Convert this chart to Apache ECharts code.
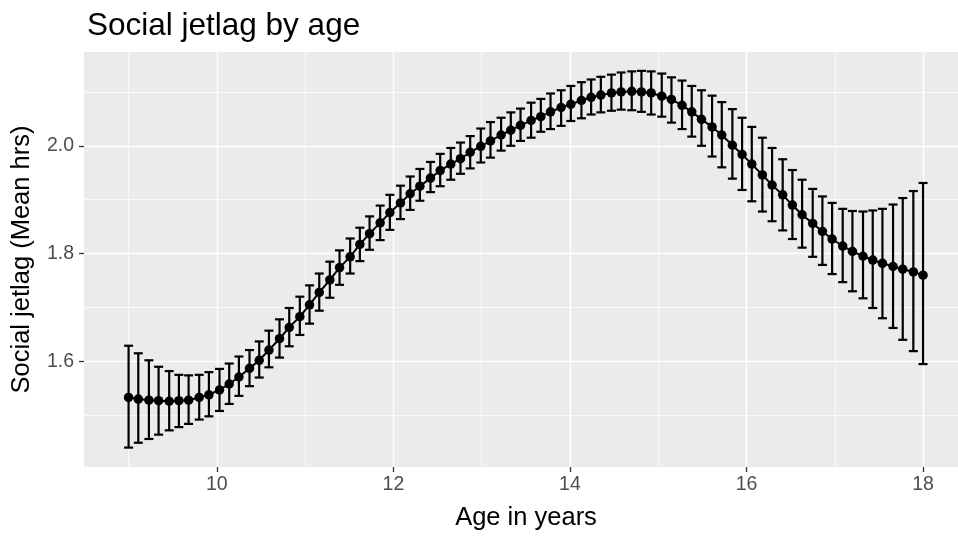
<!DOCTYPE html>
<html>
<head>
<meta charset="utf-8">
<title>Social jetlag by age</title>
<script src="https://cdn.jsdelivr.net/npm/echarts@6.0.0/dist/echarts.min.js"></script>
<style>
  html, body { margin: 0; padding: 0; background: #fff; }
  #jetlag_chart { width: 958px; height: 536px; }
</style>
</head>
<body>
<div id="jetlag_chart"></div>
<script>
// age in years (80 evenly spaced points, 9 -> 18)
var ages = [
  9.00, 9.11, 9.23, 9.34, 9.46, 9.57, 9.68, 9.80, 9.91, 10.03,
  10.14, 10.25, 10.37, 10.48, 10.59, 10.71, 10.82, 10.94, 11.05, 11.16,
  11.28, 11.39, 11.51, 11.62, 11.73, 11.85, 11.96, 12.08, 12.19, 12.30,
  12.42, 12.53, 12.65, 12.76, 12.87, 12.99, 13.10, 13.22, 13.33, 13.44,
  13.56, 13.67, 13.78, 13.90, 14.01, 14.13, 14.24, 14.35, 14.47, 14.58,
  14.70, 14.81, 14.92, 15.04, 15.15, 15.27, 15.38, 15.49, 15.61, 15.72,
  15.84, 15.95, 16.06, 16.18, 16.29, 16.41, 16.52, 16.63, 16.75, 16.86,
  16.97, 17.09, 17.20, 17.32, 17.43, 17.54, 17.66, 17.77, 17.89, 18.00
];
// mean social jetlag (hrs)
var meanJetlag = [
  1.533, 1.530, 1.528, 1.527, 1.526, 1.527, 1.528, 1.533, 1.538, 1.547,
  1.558, 1.571, 1.587, 1.602, 1.621, 1.642, 1.663, 1.683, 1.705, 1.728,
  1.751, 1.774, 1.794, 1.817, 1.837, 1.857, 1.876, 1.894, 1.911, 1.925,
  1.940, 1.954, 1.966, 1.976, 1.988, 1.999, 2.009, 2.020, 2.029, 2.038,
  2.047, 2.054, 2.063, 2.071, 2.077, 2.084, 2.090, 2.094, 2.098, 2.100,
  2.101, 2.100, 2.098, 2.092, 2.086, 2.075, 2.063, 2.049, 2.035, 2.020,
  2.001, 1.984, 1.966, 1.946, 1.927, 1.909, 1.890, 1.872, 1.856, 1.841,
  1.827, 1.814, 1.804, 1.795, 1.788, 1.782, 1.776, 1.771, 1.766, 1.760
];
// error bar ends
var upperCI = [
  1.629, 1.615, 1.602, 1.590, 1.582, 1.575, 1.574, 1.575, 1.580, 1.586,
  1.596, 1.609, 1.621, 1.637, 1.657, 1.678, 1.699, 1.720, 1.741, 1.763,
  1.785, 1.806, 1.828, 1.848, 1.869, 1.889, 1.909, 1.926, 1.943, 1.957,
  1.970, 1.985, 1.996, 2.006, 2.018, 2.032, 2.044, 2.052, 2.062, 2.069,
  2.080, 2.087, 2.097, 2.103, 2.111, 2.118, 2.123, 2.128, 2.132, 2.136,
  2.138, 2.139, 2.138, 2.134, 2.127, 2.121, 2.111, 2.103, 2.093, 2.081,
  2.068, 2.052, 2.035, 2.015, 1.996, 1.975, 1.955, 1.937, 1.920, 1.906,
  1.894, 1.883, 1.879, 1.878, 1.880, 1.883, 1.891, 1.903, 1.916, 1.931
];
var lowerCI = [
  1.440, 1.449, 1.456, 1.464, 1.472, 1.478, 1.484, 1.492, 1.498, 1.508,
  1.521, 1.536, 1.554, 1.570, 1.589, 1.607, 1.628, 1.649, 1.670, 1.694,
  1.718, 1.742, 1.763, 1.786, 1.807, 1.825, 1.844, 1.864, 1.881, 1.898,
  1.914, 1.925, 1.937, 1.948, 1.958, 1.969, 1.978, 1.991, 2.000, 2.009,
  2.015, 2.026, 2.031, 2.037, 2.046, 2.051, 2.058, 2.062, 2.065, 2.067,
  2.066, 2.063, 2.058, 2.054, 2.043, 2.031, 2.017, 2.000, 1.980, 1.960,
  1.939, 1.918, 1.897, 1.878, 1.860, 1.843, 1.827, 1.811, 1.794, 1.779,
  1.762, 1.747, 1.730, 1.717, 1.699, 1.680, 1.662, 1.640, 1.619, 1.595
];
var xTicks = [10, 12, 14, 16, 18];
var xMinor = [9, 11, 13, 15, 17];
var yTicks = [1.6, 1.8, 2.0];
var yMinor = [1.5, 1.7, 1.9, 2.1];

var myChart = echarts.init(document.getElementById("jetlag_chart"));

var points = [];
var bars = [];
for (var i = 0; i < ages.length; i++) {
  points.push([ages[i], meanJetlag[i]]);
  bars.push([ages[i], lowerCI[i], upperCI[i]]);
}

// ggplot style white grid lines
var gridLines = [];
xTicks.forEach(function (v) { gridLines.push({ xAxis: v, lineStyle: { width: 1.4 } }); });
xMinor.forEach(function (v) { gridLines.push({ xAxis: v, lineStyle: { width: 0.7 } }); });
yTicks.forEach(function (v) { gridLines.push({ yAxis: v, lineStyle: { width: 1.4 } }); });
yMinor.forEach(function (v) { gridLines.push({ yAxis: v, lineStyle: { width: 0.7 } }); });

var font = "Liberation Sans, Arial, sans-serif";

var option = {
  backgroundColor: "#fff",
  animation: false,
  title: {
    text: "Social jetlag by age",
    left: 82,
    top: 5,
    textStyle: { color: "#000", fontSize: 31.5, fontWeight: "normal", fontFamily: font }
  },
  grid: {
    left: 84,
    right: 0,
    top: 52,
    bottom: 66,
    show: true,
    backgroundColor: "#EBEBEB",
    borderWidth: 0
  },
  xAxis: {
    type: "value",
    min: 8.495,
    max: 18.396,
    name: "Age in years",
    nameLocation: "middle",
    nameGap: 38,
    nameTextStyle: { color: "#000", fontSize: 25.5, fontFamily: font, padding: [0, 0, 0, 10] },
    axisLine: { show: false },
    axisTick: { show: true, length: 5, customValues: xTicks, lineStyle: { color: "#333", width: 1.3 } },
    axisLabel: {
      customValues: xTicks,
      margin: 8,
      color: "#4D4D4D",
      fontSize: 19.5,
      fontFamily: font
    },
    splitLine: { show: false }
  },
  yAxis: {
    type: "value",
    min: 1.404,
    max: 2.174,
    name: "Social jetlag (Mean hrs)",
    nameLocation: "middle",
    nameGap: 49,
    nameTextStyle: { color: "#000", fontSize: 25.5, fontFamily: font },
    axisLine: { show: false },
    axisTick: { show: true, length: 5, customValues: yTicks, lineStyle: { color: "#333", width: 1.3 } },
    axisLabel: {
      customValues: yTicks,
      margin: 10,
      color: "#4D4D4D",
      fontSize: 19.5,
      fontFamily: font,
      formatter: function (v) { return v.toFixed(1); }
    },
    splitLine: { show: false }
  },
  series: [
    {
      name: "grid",
      type: "line",
      data: [],
      z: 1,
      silent: true,
      markLine: {
        z: 1, // keep the white grid under the marks
        silent: true,
        symbol: ["none", "none"],
        label: { show: false },
        lineStyle: { color: "#fff", type: "solid" },
        data: gridLines
      }
    },
    {
      name: "errorbars",
      type: "custom",
      z: 3,
      data: bars,
      encode: { x: 0, y: [1, 2] },
      renderItem: function (params, api) {
        var lo = api.coord([api.value(0), api.value(1)]);
        var hi = api.coord([api.value(0), api.value(2)]);
        var hw = 4.5; // cap half width in px
        var st = { stroke: "#000", lineWidth: 2.2 };
        return {
          type: "group",
          children: [
            { type: "line", shape: { x1: lo[0], y1: lo[1], x2: hi[0], y2: hi[1] }, style: st },
            { type: "line", shape: { x1: lo[0] - hw, y1: lo[1], x2: lo[0] + hw, y2: lo[1] }, style: st },
            { type: "line", shape: { x1: hi[0] - hw, y1: hi[1], x2: hi[0] + hw, y2: hi[1] }, style: st }
          ]
        };
      }
    },
    {
      name: "mean",
      type: "line",
      z: 4,
      data: points,
      symbol: "circle",
      symbolSize: 9.5,
      itemStyle: { color: "#000" },
      lineStyle: { color: "#000", width: 2 }
    }
  ]
};
myChart.setOption(option);
</script>
</body>
</html>
